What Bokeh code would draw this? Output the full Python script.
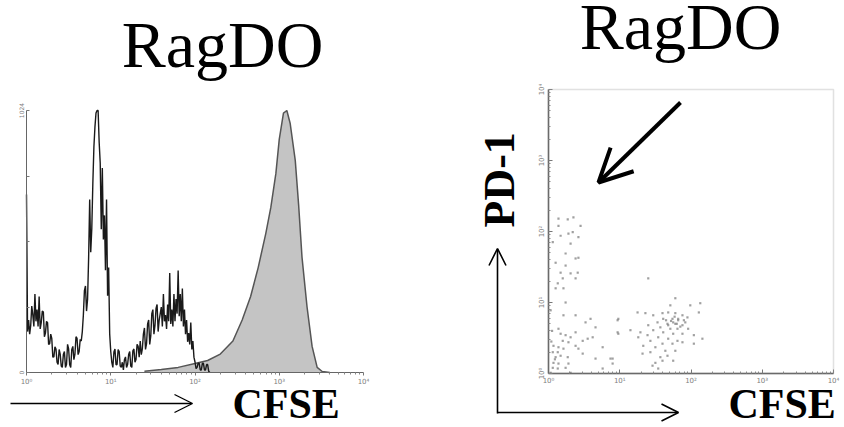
import numpy as np
from bokeh.plotting import figure
from bokeh.models import Range1d, FixedTicker, Label, Arrow, OpenHead, BoxAnnotation
from bokeh.layouts import row
from bokeh.embed import file_html
from bokeh.resources import INLINE

# ---------------- data ----------------
title_text = "RagDO"
x_label = "CFSE"
y_label = "PD-1"
decade_ticks = [1, 10, 100, 1000, 10000]
decade_labels = ["10⁰", "10¹", "10²", "10³", "10⁴"]
count_ticks = [0, 256, 512, 768, 1024]
count_labels = ["0", "", "", "", "1024"]

# open (black) histogram: counts per channel, channels every 0.0125 decade from 10^0
black_counts = [696, 160, 205, 150, 184, 260, 225, 180, 307, 200,
                246, 180, 297, 170, 195, 240, 236, 140, 154, 200,
                195, 110, 113, 150, 133, 60, 61, 100, 92, 40,
                31, 90, 72, 25, 20, 70, 82, 20, 31, 110,
                92, 30, 20, 90, 102, 50, 72, 140, 133, 70,
                82, 130, 123, 160, 225, 320, 338, 240, 287, 450,
                676, 470, 563, 740, 881, 960, 1014, 1024, 1024, 900,
                819, 560, 799, 520, 614, 400, 676, 300, 410, 150,
                82, 40, 20, 80, 92, 30, 31, 90, 82, 25,
                20, 40, 10, 50, 61, 20, 31, 70, 82, 25,
                20, 85, 92, 40, 51, 110, 102, 60, 123, 70,
                92, 150, 174, 90, 113, 190, 205, 110, 143, 230,
                246, 150, 184, 250, 266, 160, 205, 230, 256, 180,
                307, 200, 225, 170, 266, 200, 389, 190, 246, 180,
                307, 200, 287, 230, 399, 220, 307, 200, 328, 180,
                246, 150, 205, 120, 154, 110, 195, 90, 123, 60,
                41, 15, 20, 36, 36, 10, 10, 36, 36, 10,
                10, 31, 31, 5, 0]
black_decade = [round(i * 0.0125, 4) for i in range(len(black_counts))]

# filled (gray) histogram
gray_decade = [1.40, 1.60, 1.80, 2.00, 2.15, 2.30, 2.45, 2.56, 2.66, 2.75,
               2.84, 2.90, 2.96, 3.00, 3.05, 3.09, 3.13, 3.19, 3.23, 3.27,
               3.33, 3.39, 3.45, 3.51, 3.60]
gray_counts = [5, 12, 20, 35, 47, 72, 123, 205, 297, 410,
               543, 645, 778, 911, 1014, 1024, 973, 829, 655, 451,
               256, 102, 20, 4, 0]

# dot plot events (log10 CFSE, log10 PD-1)
cfse_log = [0.14, 0.27, 0.35, 0.45, 0.14, 0.28, 0.34, 0.17, 0.42, 0.31,
            0.06, 0.24, 0.38, 0.42, 0.10, 0.24, 0.41, 0.17, 0.31, 0.20,
            0.38, 0.13, 0.21, 0.10, 0.24, 0.03, 0.38, 0.21, 0.59, 0.52,
            0.98, 0.14, 0.38, 0.66, 0.17, 0.24, 0.31, 0.97, 0.20, 0.28,
            0.48, 0.55, 0.62, 0.07, 0.14, 0.38, 0.06, 0.13, 0.21, 0.42,
            0.76, 0.10, 0.17, 0.27, 0.48, 0.87, 0.07, 0.14, 0.28, 0.66,
            0.90, 0.06, 0.13, 0.24, 0.31, 0.03, 0.76, 0.04, 0.09, 0.05,
            1.78, 2.13, 1.99, 1.71, 1.25, 1.36, 1.47, 1.60, 1.68, 1.78,
            1.88, 1.95, 2.11, 0.97, 1.61, 1.74, 1.82, 1.92, 1.53, 1.67,
            1.78, 1.88, 1.40, 1.57, 1.71, 1.81, 1.96, 1.29, 1.47, 1.61,
            1.75, 1.88, 2.04, 0.98, 1.54, 1.68, 1.81, 1.43, 1.60, 1.74,
            1.88, 1.33, 1.50, 1.64, 1.78, 1.43, 1.32, 1.57, 1.67, 1.50,
            1.60, 1.46, 1.75, 0.90, 1.54, 2.04, 2.16, 1.39, 1.26, 1.15,
            1.40, 1.75, 1.82, 1.68, 1.90, 1.72, 1.80, 1.65, 1.85, 1.77]
pd1_log = [2.18, 2.17, 2.20, 2.08, 2.08, 1.97, 1.99, 1.94, 1.92, 1.83,
           1.85, 1.69, 1.62, 1.63, 1.56, 1.52, 1.42, 1.42, 1.41, 1.34,
           1.34, 1.27, 1.20, 1.20, 1.00, 0.89, 0.82, 0.82, 0.77, 0.72,
           0.77, 0.63, 0.58, 0.65, 0.56, 0.54, 0.51, 0.58, 0.46, 0.44,
           0.46, 0.49, 0.51, 0.39, 0.37, 0.39, 0.30, 0.30, 0.35, 0.35,
           0.37, 0.23, 0.25, 0.23, 0.28, 0.21, 0.15, 0.14, 0.14, 0.21,
           0.14, 0.08, 0.07, 0.08, 0.01, 0.01, 0.07, 0.45, 0.20, 0.60,
           1.06, 0.99, 0.96, 0.96, 0.86, 0.85, 0.82, 0.85, 0.86, 0.85,
           0.82, 0.79, 0.86, 0.75, 0.77, 0.77, 0.75, 0.72, 0.72, 0.70,
           0.70, 0.68, 0.68, 0.65, 0.63, 0.63, 0.63, 0.58, 0.61, 0.58,
           0.56, 0.56, 0.54, 0.56, 0.51, 0.49, 0.46, 0.46, 0.42, 0.42,
           0.44, 0.39, 0.37, 0.32, 0.32, 0.30, 0.28, 0.23, 0.25, 0.15,
           0.18, 0.11, 0.18, 0.21, 0.07, 0.42, 0.49, 0.54, 0.51, 0.61,
           1.34, 0.72, 0.77, 0.68, 0.75, 0.74, 0.70, 0.75, 0.66, 0.80]

# ---------------- layout constants (pixels) ----------------
H = 424
W1, W2 = 440, 400
# left histogram plotting area inside its canvas
L_X0, L_X1, L_YB, L_YT = 26, 363, 372, 110
# right dot plot area inside its canvas
R_X0, R_X1, R_YB, R_YT = 108, 393, 373, 89
BASE_SHIFT = 0.355  # label anchor offset relative to font size

SERIF = "Liberation Serif"
TICK_FONT = "DejaVu Sans"
MINOR = [m * d for d in decade_ticks[:-1] for m in range(2, 10)]


def log_range(c0, c1, size):
    ppd = (c1 - c0) / 4.0
    return Range1d(10 ** ((0 - c0) / ppd), 10 ** ((size - c0) / ppd))


def style_axis(ax, size="7px"):
    ax.major_label_text_font = TICK_FONT
    ax.major_label_text_font_size = size
    ax.major_label_text_color = "#808080"
    ax.axis_line_color = "#666666"
    ax.major_tick_line_color = "#777777"
    ax.minor_tick_line_color = "#888888"


def screen_label(p, x, y, text, size, bold=False, align="left", angle=0.0):
    shift = BASE_SHIFT * size
    if angle:
        x = x - shift
    else:
        y = y - shift
    p.add_layout(Label(x=x, y=H - y, x_units="screen", y_units="screen", text=text,
                       text_font=SERIF, text_font_size=f"{size}px",
                       text_font_style="bold" if bold else "normal",
                       text_align=align, text_baseline="alphabetic",
                       text_color="black", angle=angle))


def screen_arrow(p, x0, y0, x1, y1, head, width):
    p.add_layout(Arrow(end=OpenHead(size=head, line_width=width, line_color="black"),
                       x_start=x0, y_start=H - y0, x_end=x1, y_end=H - y1,
                       start_units="screen", end_units="screen",
                       line_width=width, line_color="black"))


def base_fig(width, x_range, y_range, y_type):
    p = figure(width=width, height=H, x_axis_type="log", y_axis_type=y_type,
               x_range=x_range, y_range=y_range,
               output_backend="svg", toolbar_location=None, min_border=0)
    p.outline_line_color = None
    p.grid.visible = False
    p.background_fill_color = "white"
    p.border_fill_color = "white"
    return p


# ---------------- left: histogram ----------------
ppc = (L_YB - L_YT) / 1024.0
p1 = base_fig(W1, log_range(L_X0, L_X1, W1),
              Range1d(-(H - L_YB) / ppc, L_YB / ppc), "linear")

xa = p1.xaxis[0]
xa.fixed_location = 0
xa.bounds = (1, 10000)
xa.ticker = FixedTicker(ticks=decade_ticks, minor_ticks=MINOR)
xa.major_label_overrides = dict(zip(decade_ticks, decade_labels))
style_axis(xa)
xa.major_tick_in = 0
xa.major_tick_out = 3
xa.minor_tick_in = 0
xa.minor_tick_out = 2
xa.major_label_standoff = 2

ya = p1.yaxis[0]
ya.fixed_location = 1
ya.bounds = (0, 1024)
ya.ticker = FixedTicker(ticks=count_ticks)
ya.major_label_overrides = dict(zip(count_ticks, count_labels))
style_axis(ya, "6px")
ya.major_label_orientation = "vertical"
ya.major_tick_in = 3
ya.major_tick_out = 0
ya.major_label_standoff = 3

gx = 10 ** np.array(gray_decade)
p1.varea(x=gx, y1=0, y2=gray_counts, fill_color="#c4c4c4")
p1.line(x=gx, y=gray_counts, line_color="#555555", line_width=1.5)

bx = 10 ** np.array(black_decade)
p1.line(x=bx, y=black_counts, line_color="#1a1a1a", line_width=1.4)

screen_label(p1, 222, 67, title_text, 66, align="center")
screen_label(p1, 232, 418, x_label, 42, bold=True)
screen_arrow(p1, 10, 403, 192, 403, 18, 1.3)

# ---------------- right: dot plot ----------------
ppd_y = (R_YB - R_YT) / 4.0
p2 = base_fig(W2, log_range(R_X0, R_X1, W2),
              Range1d(10 ** (-(H - R_YB) / ppd_y), 10 ** (R_YB / ppd_y)), "log")

p2.add_layout(BoxAnnotation(left=1, right=10000, bottom=1, top=10000,
                            fill_color=None, fill_alpha=0,
                            line_color="#9a9a9a", line_width=1.5))

for ax in (p2.xaxis[0], p2.yaxis[0]):
    ax.fixed_location = 1
    ax.bounds = (1, 10000)
    ax.ticker = FixedTicker(ticks=decade_ticks, minor_ticks=MINOR)
    ax.major_label_overrides = dict(zip(decade_ticks, decade_labels))
    style_axis(ax)
    ax.axis_line_color = "#555555"
    ax.axis_line_width = 1.5
    ax.major_tick_in = 4
    ax.major_tick_out = 0
    ax.minor_tick_in = 2
    ax.minor_tick_out = 0
    ax.major_label_standoff = 3
p2.yaxis.major_label_orientation = "vertical"

p2.scatter(x=10 ** np.array(cfse_log), y=10 ** np.array(pd1_log), marker="square",
           size=2.2, fill_color="#808080", line_color=None, fill_alpha=0.75)

OX = W1  # right canvas starts here in page coordinates
screen_label(p2, 680 - OX, 49, title_text, 66, align="center")
screen_label(p2, 728 - OX, 418, x_label, 42, bold=True)
screen_label(p2, 515 - OX, 227, y_label, 44, bold=True, angle=np.pi / 2)
screen_arrow(p2, 497 - OX, 413, 497 - OX, 248, 17, 1.6)
screen_arrow(p2, 497 - OX, 412, 678 - OX, 412, 17, 1.6)
screen_arrow(p2, 680 - OX, 102, 598 - OX, 182, 33, 4)

layout = row(p1, p2)
open("out.html", "w").write(file_html(layout, INLINE))
